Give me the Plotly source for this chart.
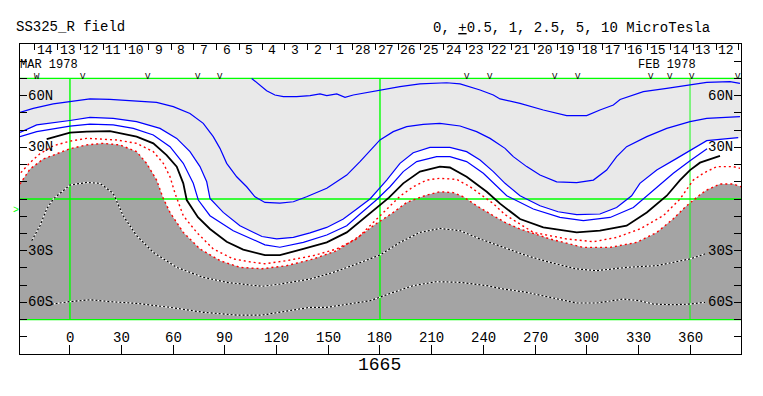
import plotly.graph_objects as go

# ---------------- axis frame ----------------
X_MIN, X_MAX = -29.0, 389.6
MAP_TOP, MAP_BOT = 70, -70

LON_TICKS = [0, 30, 60, 90, 120, 150, 180, 210, 240, 270, 300, 330, 360]
LAT_TICKS = [-80, -70, -60, -50, -40, -30, -20, -10, 0, 10, 20, 30, 40, 50, 60, 70, 80]
LAT_LABELS = [(60, "60N"), (30, "30N"), (-30, "30S"), (-60, "60S")]

DAY_TICKS = [-20.3, -7.1, 6.1, 19.2, 32.4, 45.6, 58.8, 72.0, 85.1, 98.3, 111.5, 124.7,
             137.9, 151.0, 164.2, 177.4, 190.6, 203.8, 216.9, 230.1, 243.3, 256.5, 269.7,
             282.8, 296.0, 309.2, 322.4, 335.6, 348.7, 361.9, 375.1, 388.3]
DAY_LABELS = ["14", "13", "12", "11", "10", "9", "8", "7", "6", "5", "4", "3", "2", "1",
              "28", "27", "26", "25", "24", "23", "22", "21", "20", "19", "18", "17", "16",
              "15", "14", "13", "12"]
OBS_MARKS = [(-18.9, "W"), (7.8, "V"), (45.6, "V"), (74.6, "V"), (87.1, "V"), (230.3, "V"),
             (243.9, "V"), (281.6, "V"), (295.2, "V"), (337.1, "V"), (348.4, "V"), (361.0, "V"),
             (387.6, "V")]

# ---------------- contour lines (longitude, latitude) ----------------
# +5 uT
P5_LON = [105.5, 113.2, 114.2, 119.0, 123.9, 131.6, 139.4, 145.2, 149.1, 154.9, 159.7, 164.5, 180.0,
          191.6, 203.2, 218.7, 226.5, 238.1, 245.8, 249.7, 261.3, 274.8, 288.4, 300.0, 307.7, 315.5,
          319.4, 332.9, 346.5, 360.0, 369.7, 383.2, 389.0]
P5_LAT = [70.0, 63.3, 62.9, 60.4, 59.4, 59.4, 60.0, 61.0, 60.0, 61.0, 59.0, 60.4, 63.3,
          65.2, 66.8, 67.5, 66.8, 63.3, 60.4, 58.1, 55.5, 51.7, 48.4, 48.4, 51.7, 54.6,
          57.8, 62.3, 64.2, 66.2, 67.7, 68.1, 67.1]
# +2.5 uT
P25_LON = [-29.0, -21.3, -9.7, 0.0, 11.6, 23.2, 36.8, 50.3, 60.0, 69.7, 77.4, 83.2, 87.1, 91.0, 96.8,
           102.6, 107.4, 113.2, 121.9, 129.7, 137.4, 149.1, 160.7, 168.4, 180.0, 187.7, 195.5, 205.1,
           214.8, 226.5, 236.1, 243.9, 252.6, 257.4, 265.2, 272.9, 282.6, 294.2, 303.9, 311.6, 317.4,
           323.2, 334.9, 346.5, 360.0, 369.7, 389.0]
P25_LAT = [50.3, 52.6, 55.2, 56.5, 58.1, 57.8, 57.1, 56.1, 53.6, 49.7, 43.9, 36.2, 29.4, 20.7, 12.9,
           7.1, 1.3, -2.0, -2.4, -1.6, 1.3, 6.2, 13.9, 21.7, 34.3, 39.1, 42.0, 43.3,
           43.9, 42.4, 39.1, 35.2, 29.4, 24.6, 18.8, 13.9, 10.0, 9.5, 11.0, 16.8, 24.6,
           30.4, 36.2, 41.0, 44.9, 46.8, 47.8]
# +1 uT
P1_LON = [-29.0, -19.3, 0.0, 11.6, 25.1, 38.7, 52.3, 62.0, 69.7, 75.5, 79.4, 81.3, 89.0, 98.7, 111.5,
          120.0, 129.7, 139.4, 149.1, 158.7, 166.5, 174.2, 183.9, 191.6, 199.3, 209.0, 220.6, 230.3,
          238.1, 245.8, 252.6, 261.3, 272.9, 283.4, 294.2, 307.7, 317.4, 326.1, 330.9, 340.7, 352.3,
          361.9, 369.7, 388.0]
P1_LAT = [38.7, 43.0, 45.6, 47.4, 46.8, 44.9, 41.0, 35.2, 27.5, 18.8, 10.0, 0.3, -7.8, -15.5, -21.8,
          -23.2, -22.3, -19.7, -16.5, -11.6, -5.8, 0.0, 11.0, 20.7, 26.9, 30.0, 30.0, 27.5,
          22.6, 15.9, 9.1, 1.9, -3.9, -7.4, -9.1, -8.7, -4.9, 1.9, 9.1, 16.8, 23.6,
          29.4, 33.9, 35.6]
# +0.5 uT
P05_LON = [-29.0, -19.3, 0.0, 11.6, 25.1, 36.8, 48.4, 58.1, 65.8, 71.6, 74.5, 81.3, 94.8, 113.2,
           121.9, 135.5, 149.1, 160.7, 168.4, 177.7, 185.8, 193.5, 201.3, 212.9, 220.6, 230.3, 240.0,
           249.7, 253.6, 269.0, 284.5, 298.1, 313.6, 327.1, 334.9, 340.7, 350.3, 360.0, 365.8, 369.9]
P05_LAT = [36.2, 39.1, 42.3, 43.5, 43.0, 41.0, 37.2, 30.4, 20.7, 9.1, -0.6, -9.7, -18.4, -26.6,
           -28.0, -25.2, -20.9, -15.5, -8.7, -0.7, 7.1, 15.9, 21.7, 24.6, 24.6, 21.7, 14.9,
           5.2, 1.9, -5.8, -10.7, -12.6, -10.7, -4.9, 1.9, 7.1, 14.9, 22.2, 26.3, 29.2]
# 0 (neutral line)
Z_LON = [-13.5, 0.0, 9.7, 23.2, 38.7, 48.4, 56.1, 62.0, 65.8, 67.8, 74.3, 81.3, 91.0, 100.6, 113.2,
         121.9, 135.5, 149.1, 160.7, 170.3, 178.1, 185.2, 193.5, 203.2, 214.8, 220.6, 230.3, 242.0,
         249.7, 261.3, 274.8, 294.2, 307.7, 323.2, 334.9, 346.5, 354.2, 360.0, 365.8, 377.4]
Z_LAT = [34.7, 38.5, 39.1, 39.4, 36.2, 32.3, 25.5, 18.8, 9.1, -0.6, -10.6, -17.4, -24.8, -29.4, -32.6,
         -32.6, -29.0, -25.2, -19.4, -11.6, -4.9, 0.8, 9.1, 15.9, 18.8, 18.3, 12.9, 4.2,
         -2.7, -11.6, -16.5, -19.4, -18.4, -15.5, -7.8, 1.9, 11.0, 16.8, 21.1, 25.0]
# -0.5 uT
M05_LON = [-28.5, -23.2, -17.4, -9.7, 0.0, 9.7, 27.1, 38.7, 48.4, 54.2, 58.1, 61.0, 65.8, 73.6, 83.2,
           94.8, 106.4, 113.2, 125.8, 141.3, 154.9, 166.5, 174.2, 181.9, 191.6, 199.3, 207.1, 214.8,
           224.5, 232.3, 242.0, 245.8, 252.6, 269.0, 288.4, 303.9, 317.4, 330.9, 344.5, 354.2, 361.9,
           367.7, 375.5, 385.1, 389.0]
M05_LAT = [15.3, 21.1, 26.3, 30.9, 33.6, 35.2, 34.3, 32.3, 27.5, 20.7, 12.9, 3.3, -9.7, -19.4, -29.0,
           -34.8, -36.8, -37.6, -35.8, -32.9, -29.0, -23.2, -15.5, -7.8, 1.6, 7.1, 11.0, 12.0,
           11.4, 7.1, 0.3, -2.7, -9.1, -19.4, -23.2, -24.8, -22.3, -17.4, -9.7, 0.0, 11.0,
           14.9, 18.8, 18.8, 17.8]
# -1 uT
M1_LON = [-29.0, -23.2, -15.5, 0.0, 9.7, 19.3, 29.0, 38.7, 44.5, 50.3, 54.2, 58.1, 65.8, 75.5, 87.1,
          98.7, 111.5, 125.8, 141.3, 154.9, 168.4, 176.1, 187.7, 195.5, 201.3, 207.1, 214.8, 222.6,
          228.4, 236.1, 245.8, 252.6, 261.3, 278.7, 298.1, 313.6, 329.0, 340.7, 350.3, 357.4, 365.8,
          369.7, 377.4, 385.1, 389.6]
M1_LAT = [8.7, 17.4, 23.2, 29.2, 31.4, 32.3, 31.4, 27.5, 20.7, 11.0, 0.3, -7.8, -19.4, -29.0, -35.8,
          -39.7, -40.5, -38.7, -34.8, -30.0, -21.3, -15.5, -7.8, -2.0, 0.2, 2.3, 4.2, 3.7,
          1.3, -3.9, -9.7, -13.6, -17.4, -23.2, -28.1, -28.1, -25.2, -19.4, -11.5, -4.5, 2.5,
          5.2, 8.7, 8.7, 7.1]
# -2.5 uT
M25_LON = [-22.2, -17.4, -13.5, -9.7, 0.0, 9.7, 17.4, 25.1, 30.9, 38.7, 48.4, 62.0, 77.4, 91.0, 111.5,
           121.9, 139.4, 152.9, 166.5, 180.0, 191.6, 203.2, 214.8, 226.5, 238.1, 250.8, 265.2, 278.7,
           294.2, 305.8, 323.2, 340.7, 350.3, 360.0, 368.7]
M25_LAT = [-24.2, -15.5, -5.8, 0.0, 8.1, 9.6, 9.1, 3.3, -9.7, -21.3, -31.0, -39.7, -45.5, -48.4, -50.7,
           -49.4, -46.5, -42.6, -37.7, -32.5, -25.2, -19.4, -17.1, -18.4, -23.2, -27.9, -32.9, -36.8,
           -40.6, -41.6, -39.7, -38.7, -36.8, -34.8, -31.9]
# -5 uT
M5_LON = [-10.6, 0.0, 11.6, 23.2, 38.7, 58.1, 77.4, 96.8, 111.5, 125.8, 139.4, 149.1, 160.7, 174.2,
          187.7, 199.3, 212.9, 226.5, 242.0, 250.8, 265.2, 278.7, 294.2, 305.8, 313.6, 321.3, 330.9,
          338.7, 350.3, 360.0, 368.7]
M5_LAT = [-61.0, -59.6, -58.5, -59.6, -60.6, -62.9, -65.8, -67.4, -67.4, -64.9, -62.9, -62.9, -61.0, -59.1,
          -54.2, -50.3, -48.0, -48.4, -50.3, -52.1, -54.2, -57.1, -60.4, -60.4, -59.1, -58.1, -59.1,
          -61.0, -61.4, -61.0, -60.0]

LIGHT = "#e9e9e9"
DARK = "#a4a4a4"
GREEN = "#00ff00"
FONT = "Liberation Mono"

fig = go.Figure()

# light gray region (field above +1)
fig.add_trace(go.Scatter(
    x=P1_LON + [X_MAX, X_MAX, X_MIN],
    y=P1_LAT + [P1_LAT[-1], MAP_TOP, MAP_TOP],
    fill="toself", fillcolor=LIGHT, line=dict(width=0), mode="lines", hoverinfo="skip"))
# dark gray region (field below -1)
fig.add_trace(go.Scatter(
    x=M1_LON + [X_MAX, X_MIN],
    y=M1_LAT + [MAP_BOT, MAP_BOT],
    fill="toself", fillcolor=DARK, line=dict(width=0), mode="lines", hoverinfo="skip"))

# green reference lines
for lat in (0, MAP_TOP, MAP_BOT):
    fig.add_trace(go.Scatter(x=[X_MIN, X_MAX], y=[lat, lat], mode="lines",
                             line=dict(color=GREEN, width=1.3), hoverinfo="skip"))
for lon, w in ((0, 1.4), (180, 1.4), (360, 0.9)):
    fig.add_trace(go.Scatter(x=[lon, lon], y=[MAP_BOT, MAP_TOP], mode="lines",
                             line=dict(color=GREEN, width=w), hoverinfo="skip"))

# white dotted (strong negative) contours
for lons, lats in ((M25_LON, M25_LAT), (M5_LON, M5_LAT)):
    fig.add_trace(go.Scatter(x=lons, y=lats, mode="lines",
                             line=dict(color="white", width=1.2), hoverinfo="skip"))
    fig.add_trace(go.Scatter(x=lons, y=lats, mode="lines",
                             line=dict(color="black", width=1.2, dash="2px,2px"), hoverinfo="skip"))

# red dotted (weak negative) contours
for lons, lats in ((M05_LON, M05_LAT), (M1_LON, M1_LAT)):
    fig.add_trace(go.Scatter(x=lons, y=lats, mode="lines",
                             line=dict(color="#ff0000", width=1.4, dash="2px,3px"), hoverinfo="skip"))

# blue positive contours
for lons, lats in ((P5_LON, P5_LAT), (P25_LON, P25_LAT), (P1_LON, P1_LAT), (P05_LON, P05_LAT)):
    fig.add_trace(go.Scatter(x=lons, y=lats, mode="lines",
                             line=dict(color="#0000ff", width=1.2), hoverinfo="skip"))

# neutral line
fig.add_trace(go.Scatter(x=Z_LON, y=Z_LAT, mode="lines",
                         line=dict(color="black", width=1.8), hoverinfo="skip"))

# dummy trace for top date axis
fig.add_trace(go.Scatter(x=[X_MIN], y=[0], xaxis="x2", mode="markers",
                         marker=dict(opacity=0), hoverinfo="skip"))

ann = []
def txt(x, y, t, size=14, xa="center", ya="middle", color="black", xref="x", yref="y", xshift=0):
    ann.append(dict(x=x, y=y, xref=xref, yref=yref, text=t, showarrow=False, borderpad=0,
                    xanchor=xa, yanchor=ya, xshift=xshift,
                    font=dict(family=FONT, size=size, color=color)))

# texts outside the axis ranges are placed in paper coordinates
txt(-0.007, 1.055, "SS325_R field", xa="left", xref="paper", yref="paper")
txt(0.571, 1.053, "0, <u>+</u>0.5, 1, 2.5, 5, 10 MicroTesla", xa="left", xref="paper", yref="paper")
txt(0.4993, -0.036, "1665", size=18, xref="paper", yref="paper")
txt(-0.005, 0.4645, "&gt;", size=10, color=GREEN, xref="paper", yref="paper")
txt(0.0, 78.0, "MAR 1978", size=12, xa="left", xref="paper", xshift=-1)
txt(329.1, 78.0, "FEB 1978", size=12, xa="left")

for i, lab in enumerate(DAY_LABELS):
    txt(DAY_TICKS[i] + 5.9, 86.4, lab, size=13)
for lon, mark in OBS_MARKS:
    txt(lon, 71.0, mark, size=9)
for lat, lab in LAT_LABELS:
    txt(-24.7, lat, lab, xa="left")
    txt(385.3, lat, lab, xa="right")
for lon in LON_TICKS:
    txt(lon, -80.8, str(lon))

# the page body has an 8px margin; size the figure so the frame lands at the reference pixels
fig.update_layout(
    width=755, height=388,
    margin=dict(l=12, r=22, t=36, b=42),
    paper_bgcolor="white", plot_bgcolor="white",
    showlegend=False,
    font=dict(family=FONT, size=14, color="black"),
    annotations=ann,
    xaxis=dict(range=[X_MIN, X_MAX], showgrid=False, zeroline=False, showline=True, mirror=True,
               linecolor="black", linewidth=1, ticks="inside", ticklen=9, tickcolor="black",
               tickvals=LON_TICKS, showticklabels=False, fixedrange=True),
    xaxis2=dict(range=[X_MIN, X_MAX], overlaying="x", side="top", anchor="y", showgrid=False,
                zeroline=False, showline=False, ticks="inside", ticklen=6, tickcolor="black",
                tickvals=DAY_TICKS, showticklabels=False, fixedrange=True),
    yaxis=dict(range=[-90, 90], showgrid=False, zeroline=False, showline=True, mirror="ticks",
               linecolor="black", linewidth=1, ticks="inside", ticklen=7, tickcolor="black",
               tickvals=LAT_TICKS, showticklabels=False, fixedrange=True),
)

fig.write_html("out.html")
